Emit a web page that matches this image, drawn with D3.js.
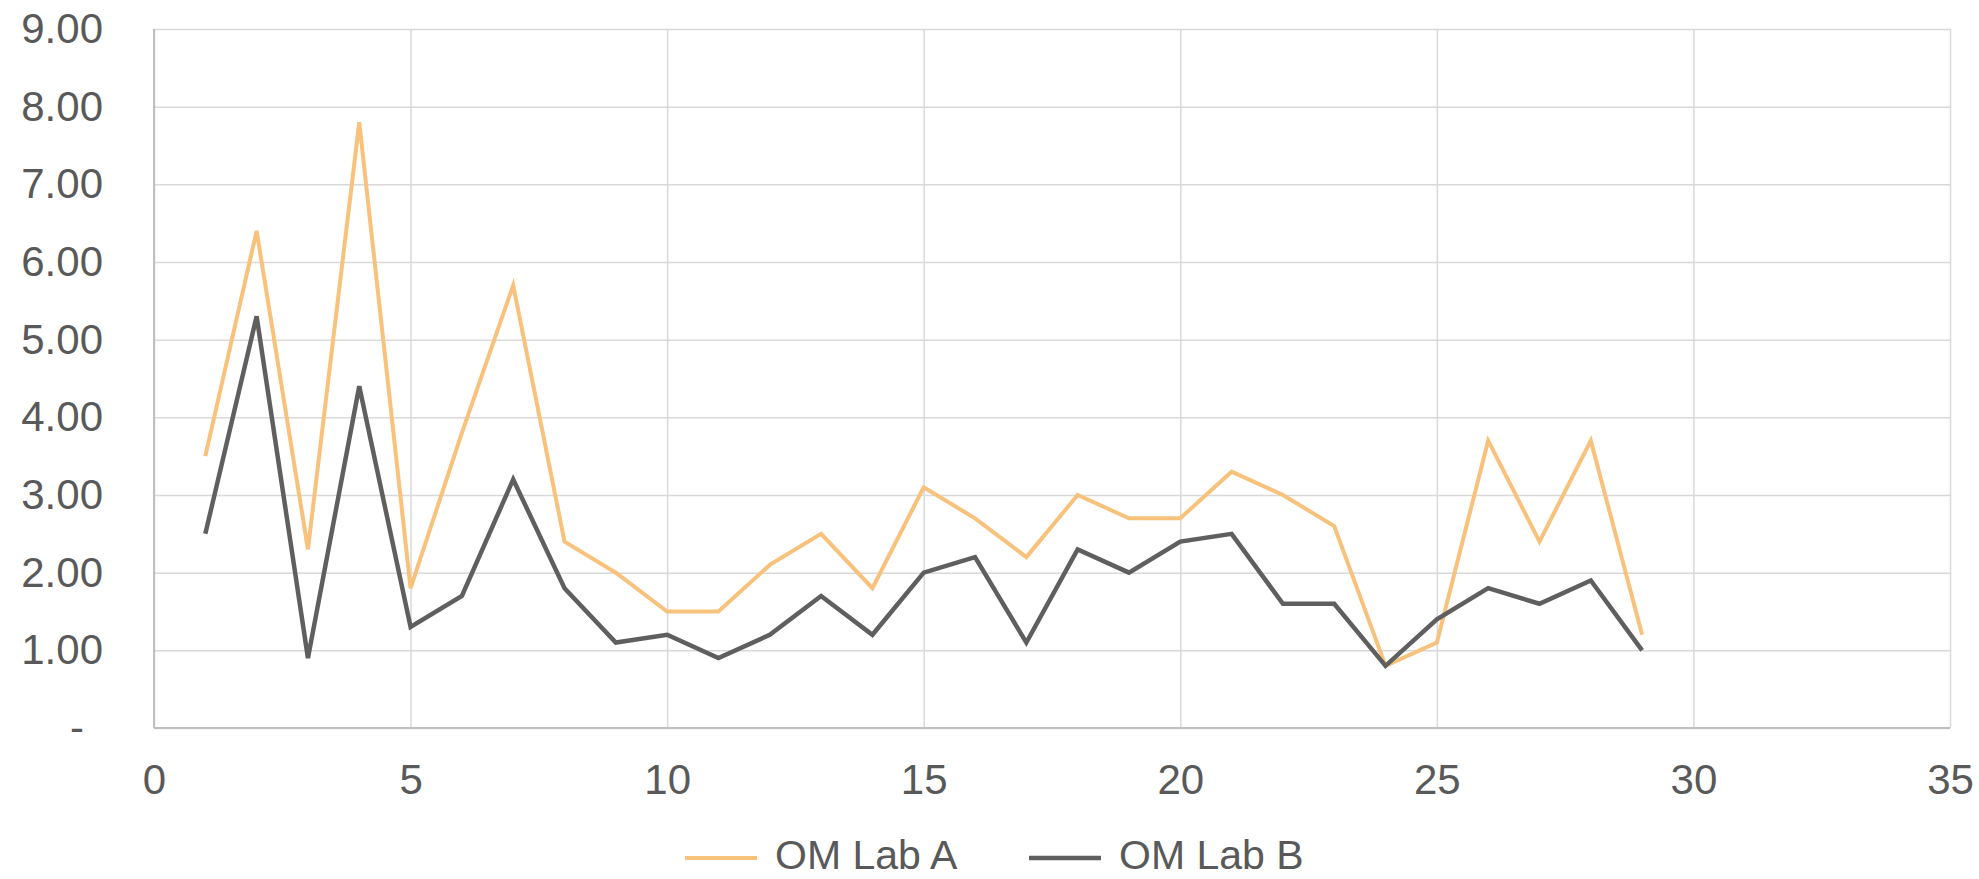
<!DOCTYPE html>
<html>
<head>
<meta charset="utf-8">
<script src="https://cdn.jsdelivr.net/npm/d3@7"></script>
<style>
  body { margin: 0; background: #fff; }
  text { font-family: "Liberation Sans", Arial, sans-serif; fill: #595959; }
</style>
</head>
<body>
<svg id="chart"></svg>
<script>
// run index 1..29
const runs = d3.range(1, 30);
const labA = [3.5, 6.4, 2.3, 7.8, 1.8, 3.8, 5.7, 2.4, 2.0, 1.5,
              1.5, 2.1, 2.5, 1.8, 3.1, 2.7, 2.2, 3.0, 2.7, 2.7,
              3.3, 3.0, 2.6, 0.8, 1.1, 3.7, 2.4, 3.7, 1.2];
const labB = [2.5, 5.3, 0.9, 4.4, 1.3, 1.7, 3.2, 1.8, 1.1, 1.2,
              0.9, 1.2, 1.7, 1.2, 2.0, 2.2, 1.1, 2.3, 2.0, 2.4,
              2.5, 1.6, 1.6, 0.8, 1.4, 1.8, 1.6, 1.9, 1.0];
const seriesNames = ["OM Lab A", "OM Lab B"];
const xTicks = [0, 5, 10, 15, 20, 25, 30, 35];
const yTicks = [0, 1, 2, 3, 4, 5, 6, 7, 8, 9];

const W = 1979, H = 879;
const margin = { top: 29, right: 29, bottom: 151, left: 154 };
const width = W - margin.left - margin.right;
const height = H - margin.top - margin.bottom;
const colors = ["#f8c27c", "#5f5f5f"];
const widths = [4, 4.5];

const svg = d3.select("#chart").attr("width", W).attr("height", H);
const g = svg.append("g").attr("transform", `translate(${margin.left},${margin.top})`);

const x = d3.scaleLinear().domain([0, 35]).range([0, width]);
const y = d3.scaleLinear().domain([0, 9]).range([height, 0]);

// gridlines
g.append("g")
  .call(d3.axisLeft(y).tickValues(yTicks).tickSize(-width).tickFormat(""))
  .call(a => a.select(".domain").remove())
  .selectAll("line").attr("stroke", "#d9d9d9").attr("stroke-width", 1.5);
g.append("g")
  .call(d3.axisBottom(x).tickValues(xTicks).tickSize(height).tickFormat(""))
  .call(a => a.select(".domain").remove())
  .selectAll("line").attr("stroke", "#d9d9d9").attr("stroke-width", 1.5);

// plot border on left and bottom
g.append("line").attr("x1", 0).attr("x2", 0).attr("y1", 0).attr("y2", height)
  .attr("stroke", "#bfbfbf").attr("stroke-width", 2);
g.append("line").attr("x1", 0).attr("x2", width).attr("y1", height).attr("y2", height)
  .attr("stroke", "#bfbfbf").attr("stroke-width", 2);

// y axis labels
const yAxis = g.append("g")
  .call(d3.axisLeft(y).tickValues(yTicks).tickSize(0).tickPadding(51)
    .tickFormat(d => d === 0 ? "-" : d.toFixed(2)));
yAxis.select(".domain").remove();
yAxis.selectAll("text")
  .style("font-size", "42px")
  .attr("dx", d => d === 0 ? -19 : 0);

// x axis labels
const xAxis = g.append("g")
  .attr("transform", `translate(0,${height})`)
  .call(d3.axisBottom(x).tickValues(xTicks).tickSize(0).tickPadding(36));
xAxis.select(".domain").remove();
xAxis.selectAll("text").style("font-size", "42px");

// lines
const line = d3.line().x(d => x(d[0])).y(d => y(d[1]));
[labA, labB].forEach((vals, i) => {
  g.append("path")
    .datum(runs.map((r, j) => [r, vals[j]]))
    .attr("fill", "none")
    .attr("stroke", colors[i])
    .attr("stroke-width", widths[i])
    .attr("stroke-linejoin", "miter")
    .attr("d", line);
});

// legend
const legendX = [685, 1029];
const legend = svg.append("g").attr("transform", "translate(0,858)");
seriesNames.forEach((name, i) => {
  legend.append("line")
    .attr("x1", legendX[i]).attr("x2", legendX[i] + 72)
    .attr("stroke", colors[i]).attr("stroke-width", widths[i]);
  legend.append("text")
    .attr("x", legendX[i] + 90).attr("y", 11)
    .style("font-size", "41px")
    .text(name);
});
</script>
</body>
</html>
